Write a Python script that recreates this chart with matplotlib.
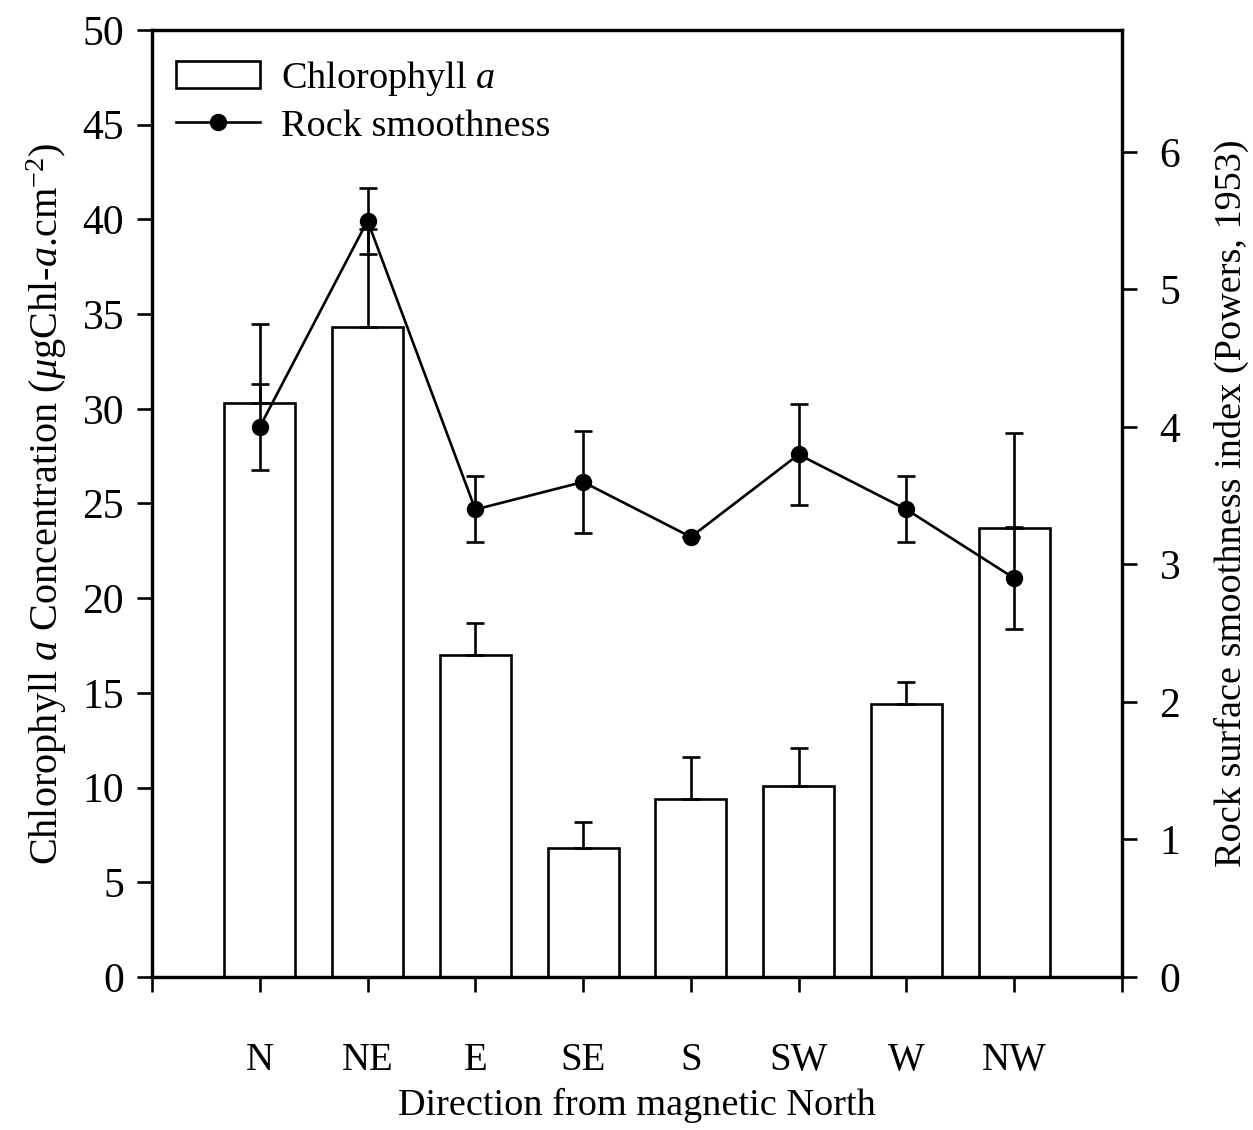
import matplotlib
matplotlib.use("Agg")
import matplotlib.pyplot as plt
from matplotlib.patches import Patch
from matplotlib.lines import Line2D

plt.rcParams['font.family'] = ['Liberation Serif', 'DejaVu Serif']
plt.rcParams['mathtext.fontset'] = 'custom'
plt.rcParams['mathtext.rm'] = 'Liberation Serif'
plt.rcParams['mathtext.it'] = 'Liberation Serif:italic'

# Aspect directions
directions = ['N', 'NE', 'E', 'SE', 'S', 'SW', 'W', 'NW']

# Chlorophyll a concentration (ug Chl-a cm^-2) with upper error
chl_mean = [30.3, 34.3, 17.0, 6.8, 9.4, 10.1, 14.4, 23.7]
chl_err = [4.2, 5.2, 1.7, 1.4, 2.2, 2.0, 1.2, 5.0]

# Rock surface smoothness index (Powers, 1953)
smooth_mean = [4.0, 5.5, 3.4, 3.6, 3.2, 3.8, 3.4, 2.9]
smooth_err = [0.31, 0.24, 0.24, 0.37, 0.0, 0.37, 0.24, 0.37]

W, H = 1253, 1130
fig = plt.figure(figsize=(W / 100, H / 100), dpi=100)
ax1 = fig.add_axes([152 / W, 1 - 977 / H, (1122 - 152) / W, (977 - 30) / H])
ax2 = ax1.twinx()

x = list(range(len(directions)))
lw = 1.9

ax1.bar(x, chl_mean, width=0.66, color='white', edgecolor='black', linewidth=lw,
        yerr=[[0] * len(chl_err), chl_err],
        error_kw=dict(ecolor='black', elinewidth=lw, capsize=6.5, capthick=lw))

ax2.errorbar(x, smooth_mean, yerr=smooth_err, color='black', linewidth=lw,
             marker='o', markersize=11.5, elinewidth=lw, capsize=6.5, capthick=lw)

ax1.set_xlim(-1, 8)
ax1.set_ylim(0, 50)
ax2.set_ylim(0, 6.887)

ax1.set_xticks(range(-1, 9))
ax1.set_xticklabels([''] + directions + [''])
ax1.set_yticks(range(0, 51, 5))
ax2.set_yticks(range(0, 7))

for a in (ax1, ax2):
    for s in a.spines.values():
        s.set_linewidth(2.3)
ax1.tick_params(axis='y', direction='out', length=11, width=1.9, labelsize=30, pad=9)
ax1.tick_params(axis='x', direction='out', length=11, width=1.9, labelsize=28, pad=36)
ax2.tick_params(axis='y', direction='out', length=11, width=1.9, labelsize=30, pad=16)

ax1.set_xlabel('Direction from magnetic North', fontsize=27.5, labelpad=6)
ax1.set_ylabel(r'Chlorophyll $a$ Concentration ($\mu$gChl-$a$.cm$^{-2}$)',
               fontsize=29, labelpad=10)
ax2.set_ylabel('Rock surface smoothness index (Powers, 1953)', fontsize=27.5,
               labelpad=24)

handles = [Patch(facecolor='white', edgecolor='black', linewidth=lw),
           Line2D([], [], color='black', linewidth=lw, marker='o', markersize=11.5)]
labels = [r'Chlorophyll $a$', 'Rock smoothness']
ax2.legend(handles, labels, loc='upper left', frameon=False, fontsize=27.5,
           handlelength=2.2, handleheight=0.7, handletextpad=0.55,
           borderaxespad=0.0, borderpad=0.3, labelspacing=0.3,
           bbox_to_anchor=(0.013, 0.982))

fig.savefig('out.png', dpi=100)
